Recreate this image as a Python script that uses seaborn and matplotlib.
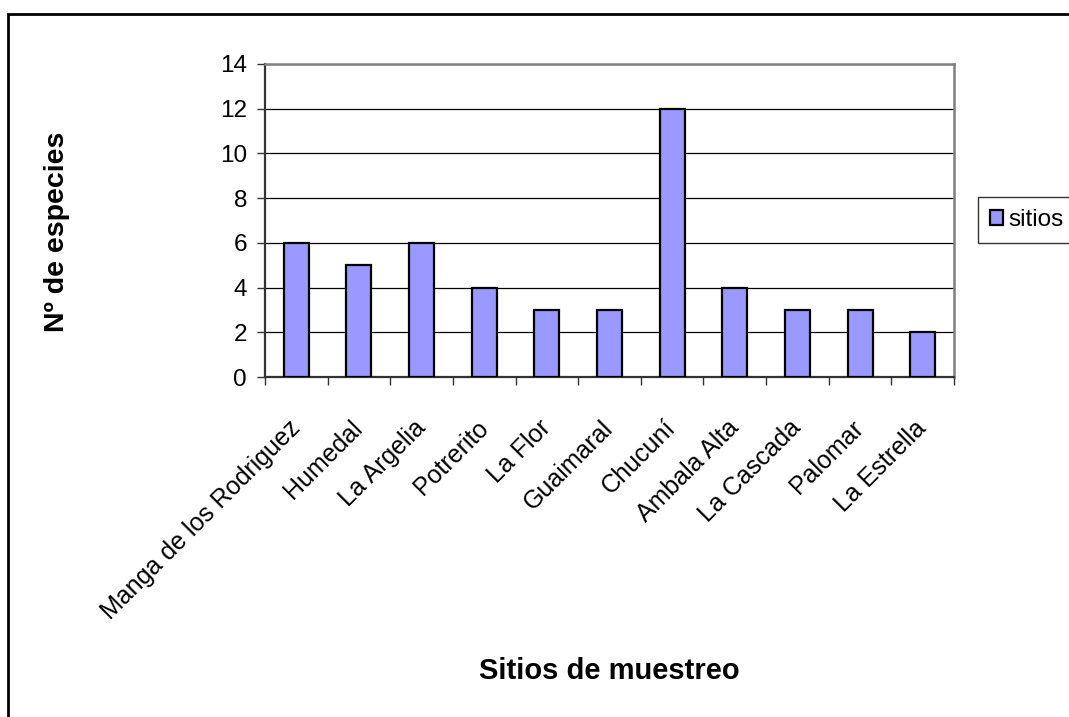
import matplotlib
matplotlib.use("Agg")
import matplotlib.pyplot as plt
from matplotlib.patches import Rectangle
from matplotlib.ticker import FixedLocator
import seaborn as sns
import pandas as pd

sitios = ["Manga de los Rodriguez", "Humedal", "La Argelia", "Potrerito", "La Flor",
          "Guaimaral", "Chucuní", "Ambala Alta", "La Cascada", "Palomar", "La Estrella"]
especies = [6, 5, 6, 4, 3, 3, 12, 4, 3, 3, 2]
y_ticks = [0, 2, 4, 6, 8, 10, 12, 14]

sns.set_theme(style="white")
plt.rcParams["font.family"] = ["Liberation Sans", "DejaVu Sans"]
plt.rcParams["text.color"] = "black"
plt.rcParams["axes.labelcolor"] = "black"
plt.rcParams["xtick.color"] = "black"
plt.rcParams["ytick.color"] = "black"

df = pd.DataFrame({"sitio": sitios, "n": especies})

fig = plt.figure(figsize=(10.69, 7.17), dpi=100)
ax = fig.add_axes([265 / 1069, 1 - 377 / 717, (954 - 265) / 1069, (377 - 64) / 717])

sns.barplot(data=df, x="sitio", y="n", color="#9999FF", edgecolor="black",
            linewidth=1.6, width=0.4, saturation=1, label="sitios", ax=ax, zorder=3)

ax.set_xlim(-0.5, len(sitios) - 0.5)
ax.set_ylim(0, 14)
ax.set_yticks(y_ticks)
ax.yaxis.grid(True, color="black", linewidth=0.9)
ax.set_axisbelow(True)

for side in ("left", "bottom"):
    ax.spines[side].set_color("#333333")
    ax.spines[side].set_linewidth(1.6)
for side in ("top", "right"):
    ax.spines[side].set_color("#808080")
    ax.spines[side].set_linewidth(1.8)

ax.tick_params(axis="y", which="major", left=True, length=6, width=1, color="#333333",
               labelsize=17.5, pad=7, direction="out")
ax.xaxis.set_minor_locator(FixedLocator([i - 0.5 for i in range(len(sitios) + 1)]))
ax.tick_params(axis="x", which="minor", bottom=True, length=6, width=1, color="#333333",
               direction="out")
ax.tick_params(axis="x", which="major", bottom=False, length=0, labelsize=18, pad=34)
ax.set_xticks(range(len(sitios)))
ax.set_xticklabels(sitios, rotation=45, ha="right", va="center", rotation_mode="anchor")

ax.set_xlabel("Sitios de muestreo", fontsize=21, fontweight="bold", labelpad=24)
ax.set_ylabel("Nº de especies", fontsize=20.5, fontweight="bold", labelpad=108)
ax.yaxis.label.set_y(0.463)

ax.legend(loc="upper left", bbox_to_anchor=(978 / 1069, 1 - 197 / 717),
          bbox_transform=fig.transFigure, frameon=True, fancybox=False,
          edgecolor="black", fontsize=17.5, handlelength=0.53, handleheight=0.53,
          handletextpad=0.22, borderpad=0.5, borderaxespad=0)
ax.get_legend().get_frame().set_linewidth(1.0)

fig.patches.append(Rectangle((8 / 1069, -0.1), 2, 1.1 - 14 / 717, transform=fig.transFigure,
                             fill=False, edgecolor="black", linewidth=2, clip_on=False))

fig.savefig("out.png", dpi=100, facecolor="white")
